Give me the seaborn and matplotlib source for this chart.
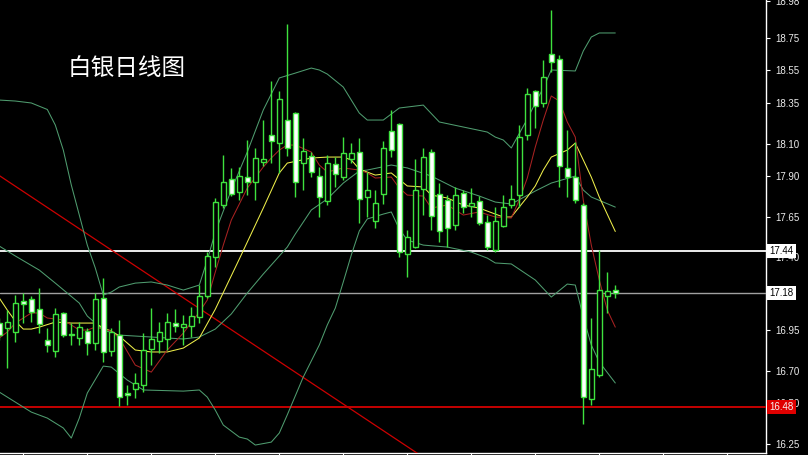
import matplotlib
matplotlib.use("Agg")
import matplotlib.pyplot as plt
import matplotlib.transforms as mtransforms
import numpy as np
import pandas as pd
import seaborn as sns

# ---------------- data (bar index, prices) ----------------
bars = list(range(-1, 77))
opens = [16.995, 16.966, 16.941, 17.131, 17.143, 17.081, 16.890, 16.823, 17.057, 16.925,
         16.903, 16.946, 16.872, 17.149, 16.823, 16.921, 16.566, 16.589, 16.613, 16.835,
         16.884, 16.897, 16.995, 16.970, 16.977, 17.032, 17.161, 17.402, 17.722, 17.882,
         17.802, 17.894, 17.863, 17.986, 18.153, 18.103, 18.245, 18.288, 17.980, 18.023,
         17.900, 17.746, 17.974, 17.894, 18.005, 18.048, 17.771, 17.623, 17.789, 18.177,
         18.220, 17.420, 17.463, 17.820, 18.048, 17.789, 17.752, 17.599, 17.796, 17.716,
         17.746, 17.617, 17.445, 17.592, 17.722, 17.783, 18.153, 18.424, 18.350, 18.652,
         18.621, 17.950, 17.894, 17.722, 16.527, 16.675, 17.161, 17.198]
highs = [17.026, 17.075, 17.167, 17.180, 17.161, 17.211, 16.964, 17.087, 17.063, 16.995,
         17.001, 16.964, 17.180, 17.272, 16.964, 17.014, 16.613, 16.687, 16.933, 17.087,
         17.001, 17.057, 17.081, 17.044, 17.094, 17.229, 17.432, 17.765, 18.030, 17.950,
         17.956, 18.122, 18.073, 18.245, 18.485, 18.424, 18.836, 18.294, 18.134, 18.048,
         17.956, 18.030, 18.017, 18.140, 18.103, 18.134, 17.925, 17.814, 18.116, 18.307,
         18.226, 17.568, 18.005, 18.073, 18.067, 17.857, 17.783, 17.833, 17.814, 17.826,
         17.777, 17.660, 17.709, 17.783, 17.845, 18.214, 18.442, 18.430, 18.615, 18.922,
         18.645, 18.184, 18.110, 17.734, 17.026, 17.445, 17.309, 17.229]
lows = [16.890, 16.718, 16.880, 16.995, 17.001, 16.933, 16.817, 16.786, 16.909, 16.860,
        16.860, 16.798, 16.829, 16.755, 16.792, 16.484, 16.490, 16.533, 16.570, 16.736,
        16.810, 16.829, 16.940, 16.860, 16.909, 16.995, 17.149, 17.340, 17.703, 17.777,
        17.752, 17.783, 17.752, 17.962, 17.980, 17.919, 18.023, 17.771, 17.814, 17.894,
        17.648, 17.722, 17.833, 17.876, 17.980, 17.611, 17.648, 17.580, 17.728, 18.017,
        17.402, 17.278, 17.457, 17.660, 17.568, 17.494, 17.463, 17.568, 17.672, 17.648,
        17.599, 17.445, 17.432, 17.586, 17.703, 17.709, 18.122, 18.196, 18.325, 18.541,
        17.833, 17.771, 17.734, 16.373, 16.490, 16.663, 17.057, 17.149]
closes = [16.921, 17.003, 17.116, 17.114, 17.063, 16.989, 16.857, 17.051, 16.921, 16.921,
          16.970, 16.872, 17.143, 16.817, 16.940, 16.539, 16.552, 16.626, 16.829, 16.897,
          16.940, 17.001, 16.977, 16.989, 17.038, 17.161, 17.408, 17.740, 17.863, 17.789,
          17.900, 17.863, 18.011, 18.005, 18.116, 18.374, 18.073, 17.863, 18.054, 17.925,
          17.771, 17.980, 17.913, 18.042, 18.042, 17.759, 17.814, 17.734, 18.073, 18.060,
          17.432, 17.525, 17.814, 18.017, 17.654, 17.562, 17.580, 17.783, 17.709, 17.734,
          17.611, 17.463, 17.623, 17.709, 17.759, 18.140, 18.405, 18.331, 18.510, 18.602,
          17.962, 17.894, 17.752, 16.539, 16.712, 17.198, 17.192, 17.180]

# Bollinger bands
ub_bars = [-1, 1, 3, 5, 6, 7, 8, 9, 10, 11, 12, 13, 14, 16, 18, 20, 22, 24, 25, 26,
           28, 30, 32, 34, 36, 38, 39, 40, 42, 44, 45, 47, 49, 52, 54, 57, 60, 61, 62, 63,
           65, 66, 67, 68, 71, 72, 73, 74, 76]
ub_vals = [18.368, 18.362, 18.350, 18.310, 18.214, 18.060, 17.845, 17.660, 17.475, 17.334,
           17.167, 17.186, 17.217, 17.241, 17.248, 17.229, 17.198, 17.229, 17.383, 17.555,
           17.814, 18.048, 18.307, 18.504, 18.534, 18.565, 18.553, 18.528, 18.448, 18.288,
           18.245, 18.245, 18.319, 18.337, 18.233, 18.202, 18.171, 18.140, 18.122, 18.073,
           18.251, 18.350, 18.442, 18.553, 18.547, 18.670, 18.756, 18.781, 18.781]
mb_bars = [-1, 1, 4, 6, 9, 10, 12, 14, 18, 22, 24, 26, 28, 30, 32, 35, 36, 38, 40, 42,
           44, 45, 48, 50, 53, 56, 59, 61, 63, 66, 68, 71, 72, 73, 76]
mb_vals = [17.469, 17.408, 17.321, 17.241, 17.118, 17.038, 16.952, 16.921, 16.909, 16.897,
           16.909, 16.958, 17.051, 17.180, 17.297, 17.463, 17.543, 17.691, 17.759, 17.857,
           17.931, 17.937, 17.968, 17.950, 17.900, 17.826, 17.777, 17.740, 17.728, 17.808,
           17.857, 17.900, 17.814, 17.771, 17.709]
lb_bars = [-1, 3, 5, 7, 8, 9, 10, 12, 13, 15, 17, 22, 24, 25, 26, 27, 29, 30, 31, 33,
           34, 35, 37, 39, 40, 41, 42, 43, 44, 45, 47, 48, 49, 50, 52, 55, 58, 60, 61, 63,
           66, 68, 70, 71, 72, 73, 74, 76]
lb_vals = [16.570, 16.447, 16.410, 16.349, 16.287, 16.410, 16.564, 16.730, 16.724, 16.644,
           16.583, 16.576, 16.583, 16.539, 16.459, 16.367, 16.293, 16.281, 16.244, 16.262,
           16.318, 16.430, 16.663, 16.860, 16.983, 17.087, 17.248, 17.414, 17.562, 17.636,
           17.666, 17.679, 17.574, 17.506, 17.475, 17.463, 17.432, 17.395, 17.365, 17.359,
           17.260, 17.155, 17.235, 17.229, 17.032, 16.860, 16.755, 16.626]
# Moving averages
ym_bars = [-1, 0, 1, 2, 3, 4, 6, 8, 11, 12, 13, 14, 16, 18, 20, 22, 24, 26, 29, 32,
           34, 35, 38, 40, 42, 43, 44, 46, 48, 50, 52, 53, 55, 57, 59, 61, 62, 63, 65, 66,
           67, 68, 70, 71, 72, 73, 74, 76]
ym_vals = [17.149, 17.075, 17.007, 16.958, 16.958, 16.970, 17.001, 16.995, 16.995, 16.964,
           16.946, 16.915, 16.829, 16.817, 16.817, 16.841, 16.903, 17.080, 17.389, 17.703,
           17.919, 17.980, 18.011, 18.017, 18.017, 17.999, 17.943, 17.906, 17.919, 17.839,
           17.833, 17.783, 17.765, 17.722, 17.703, 17.666, 17.648, 17.648, 17.771, 17.839,
           17.937, 18.017, 18.060, 18.103, 17.999, 17.894, 17.771, 17.559]
rm_bars = [-1, 0, 1, 3, 4, 5, 7, 9, 10, 11, 13, 14, 16, 18, 20, 22, 24, 25, 26, 27,
           28, 30, 32, 33, 34, 35, 36, 38, 39, 40, 42, 44, 45, 46, 48, 49, 50, 52, 53, 55,
           57, 59, 61, 63, 64, 65, 66, 67, 68, 69, 70, 71, 72, 73, 74, 75, 76]
rm_vals = [16.903, 16.940, 16.995, 17.057, 17.057, 17.026, 17.014, 16.952, 16.952, 16.970,
           16.946, 16.903, 16.736, 16.693, 16.829, 16.933, 17.063, 17.137, 17.309, 17.475,
           17.629, 17.826, 17.956, 18.011, 18.060, 18.091, 18.091, 18.048, 17.968, 17.925,
           17.950, 17.937, 17.919, 17.888, 17.894, 17.826, 17.783, 17.777, 17.703, 17.722,
           17.660, 17.679, 17.648, 17.642, 17.752, 17.888, 18.079, 18.245, 18.393, 18.362,
           18.233, 18.140, 17.752, 17.475, 17.260, 17.075, 16.970]

trend_bars = [-1, 52]
trend_prices = [17.903, 16.169]
level_white = 17.44
level_grey = 17.18
level_red = 16.48

tick_vals = [18.98, 18.75, 18.55, 18.35, 18.10, 17.90, 17.65, 17.40, 16.95, 16.70, 16.50, 16.25]
tick_labels = ["18.98", "18.75", "18.55", "18.35", "18.10", "17.90", "17.65", "17.40",
               "16.95", "16.70", "16.50", "16.25"]
title = "白银日线图"

# ---------------- style ----------------
sns.set_theme(style="dark")
plt.rcParams['font.family'] = ['Noto Sans CJK SC', 'DejaVu Sans']

GREEN = "#3ee23e"
BAND = "#4f9c6f"
RED_MA = "#a82222"
YEL = "#eeee4a"

fig = plt.figure(figsize=(8.08, 4.55), dpi=100, facecolor="black")
ax = fig.add_axes([0, 2 / 455, 766 / 808, 453 / 455])
ax.set_facecolor("black")
ax.grid(False)

# bands and moving averages
for bx, vals, col in [(ub_bars, ub_vals, BAND), (mb_bars, mb_vals, BAND),
                      (lb_bars, lb_vals, BAND), (ym_bars, ym_vals, YEL),
                      (rm_bars, rm_vals, RED_MA)]:
    df = pd.DataFrame({"bar": bx, "price": vals})
    sns.lineplot(data=df, x="bar", y="price", ax=ax, color=col, linewidth=0.75,
                 estimator=None, sort=False, legend=False, zorder=4)

# levels
ax.axhline(level_white, color="white", linewidth=1.3, zorder=3)
ax.axhline(level_grey, color="#a0a0a0", linewidth=1.0, zorder=3)
ax.axhline(level_red, color="#d40000", linewidth=1.3, zorder=3)
tdf = pd.DataFrame({"bar": trend_bars, "price": trend_prices})
sns.lineplot(data=tdf, x="bar", y="price", ax=ax, color="#cc0000", linewidth=0.9,
             estimator=None, sort=False, legend=False, zorder=3)

# candles
o = np.array(opens); c = np.array(closes)
h = np.array(highs); l = np.array(lows)
b = np.array(bars)
ax.vlines(b, l, h, color=GREEN, linewidth=1.0, zorder=5)
bottoms = np.minimum(o, c)
heights = np.maximum(np.abs(c - o), 0.006)
fills = ["black" if cc > oo else ("white" if cc < oo else GREEN) for oo, cc in zip(o, c)]
ax.bar(b, heights, bottom=bottoms, width=0.62, color=fills, edgecolor=GREEN,
       linewidth=1.0, zorder=6)

# spines
for s in ["left", "top"]:
    ax.spines[s].set_visible(False)
for s in ["right", "bottom"]:
    ax.spines[s].set_visible(True)
    ax.spines[s].set_color("white")
    ax.spines[s].set_linewidth(1.0)

# x ticks (marks only)
ax.set_xticks(list(range(2, 95, 8)))
ax.tick_params(axis="x", direction="out", length=3, color="white", width=0.8,
               labelbottom=False, bottom=True)
ax.set_xlabel("")
ax.set_ylabel("")

# y ticks on the right
ax.yaxis.tick_right()
ax.set_yticks(tick_vals)
ax.set_yticklabels(tick_labels, fontfamily="Liberation Sans", fontsize=7, color="#ececec")
ax.tick_params(axis="y", direction="out", length=3, color="white", width=0.8, pad=4,
               left=False, right=True)

# limits (after ticks so they are not expanded)
ax.set_xlim(-0.9125, 94.84)
ax.set_ylim(16.195, 18.984)

# level boxes
trans = mtransforms.blended_transform_factory(ax.transAxes, ax.transData)
for val, fc, tc in [(level_white, "white", "black"), (level_grey, "white", "black"),
                    (level_red, "#e00000", "#f4f4f4")]:
    ax.text(1.0045, val, f"{val:.2f}", transform=trans, ha="left", va="center",
            fontfamily="Liberation Sans", fontsize=7, color=tc, clip_on=False, zorder=20,
            bbox=dict(boxstyle="square,pad=0.22", fc=fc, ec="none"))

# title
ax.text(0.0888, 0.849, title, transform=ax.transAxes, ha="left", va="center",
        fontsize=17, color="white", zorder=20)

fig.savefig("out.png", dpi=100, facecolor="black")
